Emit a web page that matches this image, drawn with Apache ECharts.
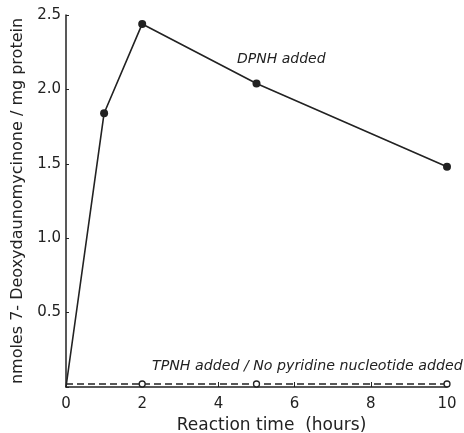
<!DOCTYPE html>
<html>
<head>
<meta charset="utf-8">
<script src="https://cdn.jsdelivr.net/npm/echarts@6/dist/echarts.min.js"></script>
<style>
	html, body { margin: 0; padding: 0; background: #fff; }
	#main { width: 464px; height: 433px; }
</style>
</head>
<body>
<div id="main"></div>
<script>
// values
var hours = [0, 1, 2, 5, 10];
var dpnh = [0, 1.84, 2.44, 2.04, 1.48];
var tpnhHours = [0, 2, 5, 10];
var tpnh = [0.02, 0.02, 0.02, 0.02];
var xTicks = [0, 2, 4, 6, 8, 10];
var yTicks = [0.5, 1.0, 1.5, 2.0, 2.5];

// origin points carry no marker in the figure
function pairs(xs, ys) {
	var out = [];
	for (var i = 0; i < xs.length; i++) {
		if (xs[i] === 0) {
			out.push({ value: [xs[i], ys[i]], symbol: 'none' });
		} else {
			out.push([xs[i], ys[i]]);
		}
	}
	return out;
}

var font = '"DejaVu Sans", sans-serif';
var ink = '#222';

var chart = echarts.init(document.getElementById('main'), null, { renderer: 'canvas' });
var option = {
	animation: false,
	backgroundColor: '#fff',
	grid: {
		left: 66,
		right: 17,
		top: 15,
		bottom: 46,
		outerBoundsMode: 'none'
	},
	xAxis: {
		type: 'value',
		min: 0,
		max: 10,
		interval: 2,
		name: 'Reaction time  (hours)',
		nameLocation: 'middle',
		nameGap: 29,
		nameTextStyle: { fontFamily: font, fontSize: 17, color: ink, padding: [0, 0, 0, 30] },
		axisLine: { lineStyle: { color: ink, width: 1.5 } },
		axisTick: { inside: true, length: 5, lineStyle: { color: ink } },
		axisLabel: {
			fontFamily: font, fontSize: 15, color: ink, margin: 10,
			formatter: function (v) { return xTicks.indexOf(v) >= 0 ? String(v) : ''; }
		},
		splitLine: { show: false }
	},
	yAxis: {
		type: 'value',
		min: 0,
		max: 2.5,
		interval: 0.5,
		name: 'nmoles 7- Deoxydaunomycinone / mg protein',
		nameLocation: 'middle',
		nameGap: 37,
		nameTextStyle: { fontFamily: font, fontSize: 16, color: ink },
		axisLine: { show: true, lineStyle: { color: ink, width: 1.5 } },
		axisTick: { inside: true, length: 3, lineStyle: { color: ink } },
		axisLabel: {
			fontFamily: font, fontSize: 15, color: ink, margin: 5,
			formatter: function (v) {
				for (var i = 0; i < yTicks.length; i++) {
					if (Math.abs(yTicks[i] - v) < 1e-6) return v.toFixed(1);
				}
				return '';
			}
		},
		splitLine: { show: false }
	},
	graphic: [
		{
			type: 'text',
			left: 237,
			top: 52,
			style: { text: 'DPNH added', fontFamily: font, fontSize: 14, fontStyle: 'italic', fill: ink }
		},
		{
			type: 'text',
			left: 152,
			top: 359,
			style: { text: 'TPNH added / No pyridine nucleotide added', fontFamily: font, fontSize: 14.2, fontStyle: 'italic', fill: ink }
		}
	],
	series: [
		{
			name: 'DPNH added',
			type: 'line',
			data: pairs(hours, dpnh),
			symbol: 'circle',
			symbolSize: 8,
			showSymbol: true,
			itemStyle: { color: ink },
			lineStyle: { color: ink, width: 1.6 },
			z: 3
		},
		{
			name: 'TPNH added / No pyridine nucleotide added',
			type: 'line',
			data: pairs(tpnhHours, tpnh),
			symbol: 'circle',
			symbolSize: 6,
			itemStyle: { color: '#fff', borderColor: ink, borderWidth: 1.3 },
			lineStyle: { color: ink, width: 1.3, type: [7, 4] },
			z: 2
		}
	]
};
chart.setOption(option);
</script>
</body>
</html>
